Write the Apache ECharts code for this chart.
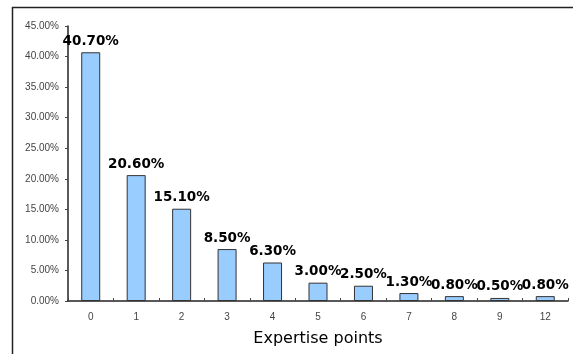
<!DOCTYPE html>
<html>
<head>
<meta charset="utf-8">
<script src="https://cdn.jsdelivr.net/npm/echarts@6/dist/echarts.min.js"></script>
<style>
  html, body { margin: 0; padding: 0; background: #fff; }
  #chart { width: 573px; height: 354px; }
</style>
</head>
<body>
<div id="chart"></div>
<script>
// Share of respondents by expertise points
const categories = ['0', '1', '2', '3', '4', '5', '6', '7', '8', '9', '12'];
const shares = [40.7, 20.6, 15.1, 8.5, 6.3, 3.0, 2.5, 1.3, 0.8, 0.5, 0.8];
const yMax = 45;
const yStep = 5;

const chart = echarts.init(document.getElementById('chart'));
chart.setOption({
  animation: false,
  backgroundColor: '#ffffff',
  graphic: [
    { type: 'line', shape: { x1: 12, y1: 7.5, x2: 573, y2: 7.5 }, style: { stroke: '#222', lineWidth: 1.5 } },
    { type: 'line', shape: { x1: 12.5, y1: 7, x2: 12.5, y2: 354 }, style: { stroke: '#222', lineWidth: 1.5 } }
  ],
  grid: { left: 68, right: 5, top: 26, bottom: 53, containLabel: false },
  xAxis: {
    type: 'category',
    data: categories,
    name: 'Expertise points',
    nameLocation: 'middle',
    nameGap: 30,
    nameTextStyle: { fontFamily: 'DejaVu Sans', fontSize: 16, color: '#000' },
    axisLine: { lineStyle: { color: '#222', width: 1.5 } },
    axisTick: { show: true, inside: true, length: 3, lineStyle: { color: '#444' } },
    axisLabel: { fontFamily: 'Liberation Sans', fontSize: 10, color: '#444', margin: 11 }
  },
  yAxis: {
    type: 'value',
    min: 0,
    max: yMax,
    interval: yStep,
    axisLine: { show: true, lineStyle: { color: '#222', width: 1.5 } },
    axisTick: { show: true, length: 3, lineStyle: { color: '#444' } },
    splitLine: { show: false },
    axisLabel: {
      fontFamily: 'Liberation Sans', fontSize: 10, color: '#444', margin: 9,
      formatter: v => v.toFixed(2) + '%'
    }
  },
  series: [{
    type: 'bar',
    data: shares,
    barWidth: 19,
    itemStyle: { color: '#99CCFF', borderColor: '#333', borderWidth: 1 },
    label: {
      show: true,
      position: 'top',
      distance: 4,
      fontFamily: 'DejaVu Sans',
      fontWeight: 'bold',
      fontSize: 13.5,
      color: '#000',
      formatter: p => p.value.toFixed(2) + '%'
    }
  }]
});
</script>
</body>
</html>
